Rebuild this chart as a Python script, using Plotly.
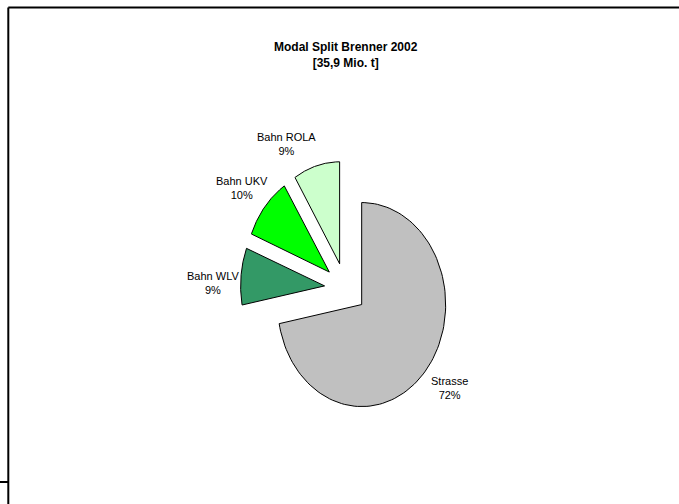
import numpy as np
import plotly.graph_objects as go

# Modal split over the Brenner pass, 2002 (share of 35.9 Mio. t)
categories = ["Strasse", "Bahn WLV", "Bahn UKV", "Bahn ROLA"]
shares = [72, 9, 10, 9]
colors = ["#C0C0C0", "#339966", "#00FF00", "#CCFFCC"]

# Layout of the exploded pie (unit circle, drawn as an ellipse by the axis scaling)
W, H = 679, 504
CX, CY = 345.5, 288.3        # pie centre in pixels
RX, RY = 84.0, 102.0         # pixel size of one data unit along x / y
PULL = 0.25                  # explosion distance as a fraction of the radius
LABEL_R = 1.58               # label distance from the centre
LABEL_SHIFT = [-1.5, -3.4, -0.9, -10.2]  # angular nudges of the labels (deg)

FONT = "Liberation Sans Narrow, Arial Narrow, Liberation Sans, Arial, sans-serif"

total = sum(shares)
fig = go.Figure()
annotations = []

start = 0.0
for name, val, col, shift in zip(categories, shares, colors, LABEL_SHIFT):
    span = 360.0 * val / total
    end = start + span
    mid = np.radians(start + span / 2)
    ox, oy = PULL * np.sin(mid), PULL * np.cos(mid)
    th = np.radians(np.linspace(start, end, 120))
    xs = np.concatenate([[ox], ox + np.sin(th), [ox]])
    ys = np.concatenate([[oy], oy + np.cos(th), [oy]])
    fig.add_trace(go.Scatter(
        x=xs, y=ys, mode="lines", fill="toself", fillcolor=col,
        line=dict(color="black", width=1), hoverinfo="text",
        text=f"{name}: {val / total:.0%}", showlegend=False,
    ))
    la = np.radians(start + span / 2 + shift)
    annotations.append(dict(
        x=LABEL_R * np.sin(la), y=LABEL_R * np.cos(la), xref="x", yref="y",
        text=f"{name}<br>{val / total:.0%}", showarrow=False,
        font=dict(family=FONT, size=11, color="black"),
        xanchor="center", yanchor="middle", align="center",
    ))
    start = end

annotations.append(dict(
    x=346 / W, y=1 - 54.5 / H, xref="paper", yref="paper",
    text="<b>Modal Split Brenner 2002</b><br><b>[35,9 Mio. t]</b>",
    showarrow=False, font=dict(family=FONT, size=12, color="black"),
    xanchor="center", yanchor="middle", align="center",
))

# Frame lines of the chart area
shapes = [
    dict(type="line", xref="paper", yref="paper", x0=8.3 / W, x1=1,
         y0=1 - 7.5 / H, y1=1 - 7.5 / H, line=dict(color="black", width=2)),
    dict(type="line", xref="paper", yref="paper", x0=8.3 / W, x1=8.3 / W,
         y0=0, y1=1 - 7.5 / H, line=dict(color="black", width=2)),
    dict(type="line", xref="paper", yref="paper", x0=0, x1=8.3 / W,
         y0=1 - 482 / H, y1=1 - 482 / H, line=dict(color="black", width=2)),
]

fig.update_layout(
    width=W, height=H, margin=dict(l=0, r=0, t=0, b=0),
    paper_bgcolor="white", plot_bgcolor="white",
    xaxis=dict(range=[-CX / RX, (W - CX) / RX], visible=False, fixedrange=True),
    yaxis=dict(range=[-(H - CY) / RY, CY / RY], visible=False, fixedrange=True),
    annotations=annotations, shapes=shapes, showlegend=False,
)

fig.write_html("out.html")
